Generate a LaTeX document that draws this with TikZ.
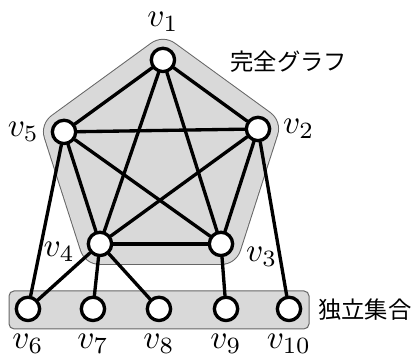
\documentclass[tikz,border=0pt]{standalone}
\usepackage{fontspec}
\newfontfamily\jpfont{Noto Sans CJK JP}
\usetikzlibrary{backgrounds}
\tikzset{
  vertex/.style={circle, draw, fill=white, line width=1pt, minimum size=7pt, inner sep=0pt},
  edge/.style={line width=1pt},
  jtext/.style={font=\jpfont\fontsize{7}{8}\selectfont},
  area/.style={line join=round, line cap=round}
}
\begin{document}
\begin{tikzpicture}[line join=round, line cap=round]
	\useasboundingbox (0,0) rectangle (4.386,3.753);
	% complete graph
	\node[vertex, label={[label distance=1pt]above:$v_1$}] (v1) at (1.718,3.121) {};
	\node[vertex, label=right:$v_2$] (v2) at (2.720,2.393) {};
	\node[vertex, label={[yshift=-4pt]right:$v_3$}] (v3) at (2.330,1.181) {};
	\node[vertex, label={[yshift=-2.5pt]left:$v_4$}] (v4) at (1.054,1.181) {};
	\node[vertex, label=left:$v_5$] (v5) at (0.675,2.362) {};
	% independent set
	\node[vertex, label=below:$v_6$] (v6) at (0.295,0.496) {};
	\node[vertex, label=below:$v_7$] (v7) at (0.980,0.496) {};
	\node[vertex, label=below:$v_8$] (v8) at (1.676,0.496) {};
	\node[vertex, label=below:$v_9$] (v9) at (2.383,0.496) {};
	\node[vertex, label=below:$v_{10}$] (v10) at (3.047,0.496) {};
	\node[jtext] (kanzen) at (3.047,3.100) {完全グラフ};
	\node[jtext] (dokuritsu) at (3.848,0.490) {独立集合};
	\begin{scope}[on background layer]
		\draw[area, line width=12.6pt, black!60] (v1.center)--(v2.center)--(v3.center)--(v4.center)--(v5.center)--cycle;
		\draw[area, line width=12pt, gray!30] (v1.center)--(v2.center)--(v3.center)--(v4.center)--(v5.center)--cycle;
		\fill[gray!30] (v1.center)--(v2.center)--(v3.center)--(v4.center)--(v5.center)--cycle;
		\draw[fill=gray!30, draw=black!60, line width=0.3pt, rounded corners=1.5pt] (0.095,0.285) rectangle (3.258,0.685);
	\end{scope}
	\foreach \a/\b in {1/2,1/3,1/4,1/5,2/3,2/4,2/5,3/4,3/5,4/5}
		\draw[edge] (v\a)--(v\b);
	\draw[edge] (v5)--(v6) (v4)--(v6) (v4)--(v7) (v4)--(v8) (v3)--(v9) (v2)--(v10);
\end{tikzpicture}
\end{document}
